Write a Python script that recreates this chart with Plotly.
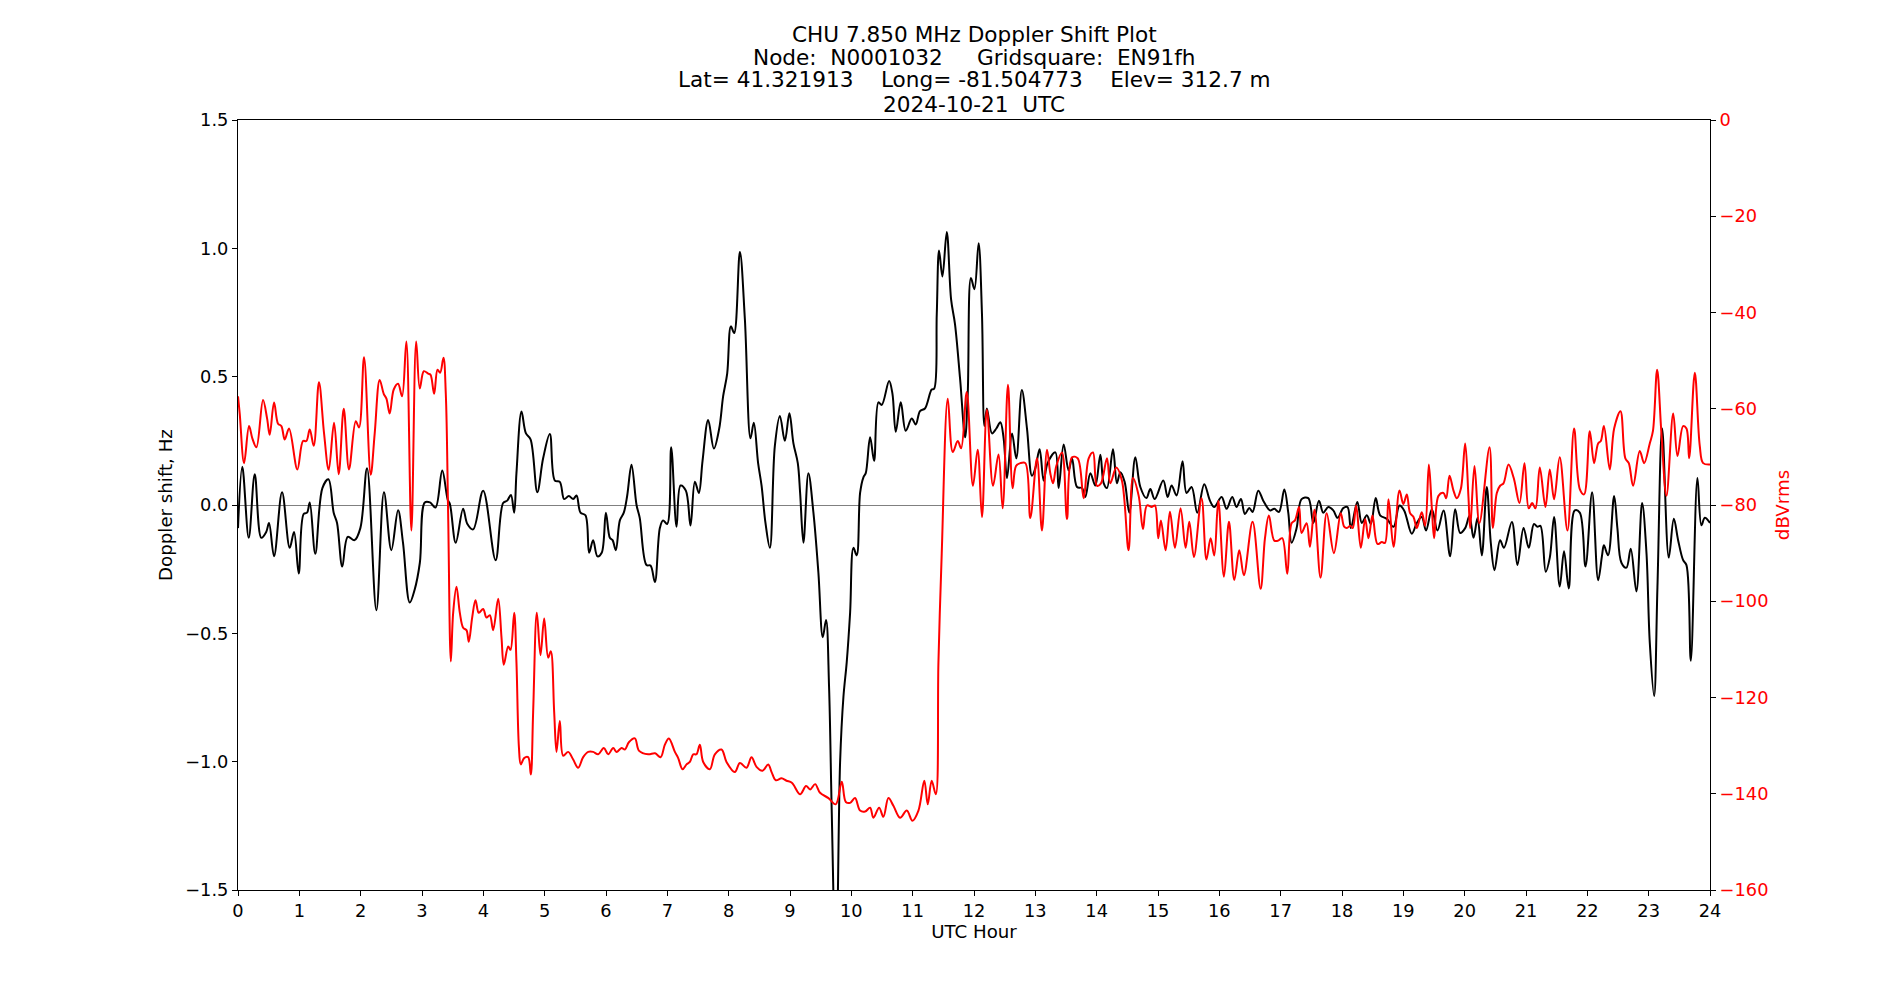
import plotly.graph_objects as go

# ---- Doppler shift (Hz) vs UTC hour (black) ----
doppler_hours = [
    0.0, 0.07, 0.175, 0.273, 0.38, 0.46, 0.506, 0.588, 0.718, 0.843, 0.914, 0.99, 1.07, 1.126, 1.17,
    1.26, 1.376, 1.474, 1.56, 1.615, 1.70, 1.79, 1.9, 1.995, 2.104, 2.256, 2.38, 2.5, 2.61, 2.69,
    2.80, 2.88, 2.965, 3.046, 3.13, 3.22, 3.33, 3.42, 3.454, 3.55, 3.67, 3.74, 3.834, 3.997, 4.2,
    4.323, 4.39, 4.45, 4.503, 4.54, 4.622, 4.693, 4.77, 4.88, 4.975, 5.084, 5.166, 5.247, 5.318,
    5.394, 5.465, 5.52, 5.584, 5.665, 5.725, 5.79, 5.86, 5.93, 5.998, 6.063, 6.107, 6.16, 6.226,
    6.29, 6.346, 6.416, 6.498, 6.55, 6.66, 6.726, 6.797, 6.878, 6.93, 6.998, 7.063, 7.15, 7.215,
    7.302, 7.378, 7.449, 7.514, 7.574, 7.666, 7.759, 7.846, 7.91, 7.976, 8.036, 8.09, 8.183, 8.264,
    8.356, 8.41, 8.48, 8.536, 8.6, 8.672, 8.753, 8.835, 8.916, 8.99, 9.056, 9.127, 9.165, 9.219,
    9.3, 9.382, 9.463, 9.534, 9.588, 9.637, 9.68, 9.75, 9.817, 9.871, 9.925, 9.98, 10.034, 10.088,
    10.143, 10.197, 10.235, 10.306, 10.371, 10.442, 10.496, 10.616, 10.67, 10.724, 10.806, 10.887,
    10.985, 11.05, 11.12, 11.2, 11.31, 11.35, 11.393, 11.43, 11.485, 11.556, 11.627, 11.69, 11.773,
    11.855, 11.898, 11.95, 12.007, 12.075, 12.13, 12.17, 12.21, 12.293, 12.364, 12.43, 12.483,
    12.538, 12.62, 12.69, 12.78, 12.864, 12.945, 13.0, 13.07, 13.136, 13.2, 13.326, 13.38, 13.462,
    13.543, 13.598, 13.68, 13.76, 13.815, 13.897, 13.978, 14.06, 14.114, 14.168, 14.266, 14.33,
    14.386, 14.456, 14.532, 14.63, 14.712, 14.81, 14.875, 14.946, 15.086, 15.157, 15.222, 15.303,
    15.4, 15.466, 15.548, 15.64, 15.754, 15.847, 15.917, 16.037, 16.118, 16.21, 16.28, 16.352,
    16.417, 16.488, 16.542, 16.635, 16.716, 16.825, 16.896, 16.972, 17.059, 17.124, 17.178, 17.26,
    17.341, 17.45, 17.532, 17.624, 17.695, 17.776, 17.858, 17.928, 18.02, 18.09, 18.144, 18.25,
    18.323, 18.405, 18.47, 18.55, 18.622, 18.73, 18.84, 18.937, 19.013, 19.138, 19.22, 19.3, 19.37,
    19.465, 19.557, 19.655, 19.763, 19.845, 19.927, 20.008, 20.078, 20.144, 20.21, 20.28, 20.36,
    20.426, 20.486, 20.578, 20.64, 20.77, 20.86, 20.96, 21.045, 21.13, 21.187, 21.235, 21.322,
    21.388, 21.458, 21.55, 21.62, 21.697, 21.795, 21.877, 21.97, 22.078, 22.176, 22.24, 22.27,
    22.338, 22.437, 22.49, 22.556, 22.638, 22.708, 22.8, 22.893, 22.964, 23.018, 23.089, 23.143,
    23.22, 23.328, 23.41, 23.48, 23.562, 23.616, 23.687, 23.795, 23.86, 23.915, 24.0,
]
doppler_hz = [
    -0.09, 0.149, -0.128, 0.12, -0.128, -0.105, -0.07, -0.2, 0.05, -0.167, -0.105, -0.267, -0.035, -0.03, 0.01,
    -0.19, 0.066, 0.1, -0.03, -0.07, -0.24, -0.124, -0.137, -0.09, 0.143, -0.41, 0.05, -0.176, -0.02, -0.147,
    -0.38, -0.33, -0.225, 0.01, 0.01, -0.01, 0.134, 0.02, 0.005, -0.147, -0.015, -0.074, -0.095, 0.056, -0.215,
    0.008, 0.017, 0.039, -0.03, 0.124, 0.364, 0.28, 0.256, 0.05, 0.182, 0.277, 0.095, 0.09, 0.023,
    0.035, 0.023, 0.037, -0.03, -0.04, -0.186, -0.137, -0.2, -0.186, -0.03, -0.128, -0.137, -0.176, -0.06,
    -0.03, 0.037, 0.157, 0.0, -0.05, -0.234, -0.236, -0.3, -0.09, -0.06, -0.074, 0.225, -0.085, 0.076,
    0.056, -0.08, 0.091, 0.047, 0.172, 0.331, 0.22, 0.298, 0.424, 0.512, 0.696, 0.67, 0.986, 0.725,
    0.26, 0.32, 0.163, 0.076, -0.07, -0.167, 0.23, 0.347, 0.25, 0.357, 0.24, 0.163, 0.047, -0.147,
    0.124, -0.03, -0.264, -0.515, -0.448, -0.71, -1.19, -1.85, -1.0, -0.748, -0.612, -0.42, -0.167, -0.196,
    0.047, 0.108, 0.124, 0.264, 0.172, 0.4, 0.39, 0.483, 0.434, 0.285, 0.4, 0.289,
    0.337, 0.314, 0.366, 0.376, 0.45, 0.453, 0.744, 0.992, 0.89, 1.064, 0.8, 0.705, 0.492,
    0.264, 0.434, 0.884, 0.841, 1.02, 0.744, 0.308, 0.376, 0.279, 0.298, 0.322, 0.26,
    0.105, 0.279, 0.182, 0.448, 0.298, 0.114, 0.143, 0.217, 0.095, 0.163, 0.205, 0.066, 0.236,
    0.134, 0.182, 0.07, 0.066, 0.031, 0.124, 0.076, 0.196, 0.085, 0.066, 0.217, 0.085,
    0.128, 0.09, -0.03, 0.186, 0.07, 0.027, 0.062, 0.023, 0.095, 0.031, 0.076, 0.037,
    0.17, 0.047, 0.07, -0.03, 0.081, 0.017, -0.008, 0.031, -0.015, 0.031, -0.008, 0.023,
    -0.035, -0.012, -0.027, 0.056, 0.017, -0.021, -0.015, -0.027, 0.06, -0.03, -0.147, -0.09,
    0.023, 0.027, -0.07, 0.017, -0.03, -0.008, -0.021, -0.05, -0.012, -0.008, -0.09, 0.012,
    -0.07, -0.04, -0.074, 0.027, -0.04, -0.054, -0.085, -0.002, -0.021, -0.112, -0.07, -0.047, -0.099,
    -0.017, -0.099, -0.021, -0.2, -0.017, -0.109, -0.09, -0.043, -0.128, -0.05, -0.196, 0.07,
    -0.147, -0.254, -0.137, -0.167, -0.066, -0.234, -0.09, -0.167, -0.074, -0.085, -0.081, -0.26,
    -0.205, -0.047, -0.318, -0.18, -0.325, -0.021, -0.03, -0.24, 0.05, -0.293, -0.196, -0.157,
    -0.196, 0.035, -0.09, -0.225, -0.244, -0.17, -0.337, 0.008, -0.186, -0.535, -0.744, -0.32,
    0.298, -0.205, -0.054, -0.137, -0.215, -0.234, -0.607, 0.105, -0.079, -0.05, -0.07,
]

# ---- Received power (dBVrms) vs UTC hour (red) ----
power_hours = [
    0.0, 0.028, 0.099, 0.18, 0.235, 0.3, 0.408, 0.474, 0.517, 0.588, 0.653, 0.707, 0.762, 0.832, 0.968,
    1.06, 1.115, 1.17, 1.235, 1.32, 1.403, 1.479, 1.566, 1.642, 1.724, 1.81, 1.92, 1.974, 2.055, 2.164,
    2.229, 2.31, 2.376, 2.42, 2.473, 2.539, 2.61, 2.675, 2.745, 2.827, 2.905, 2.964, 3.03, 3.1, 3.138,
    3.198, 3.253, 3.296, 3.35, 3.388, 3.426, 3.47, 3.508, 3.562, 3.617, 3.671, 3.725, 3.763, 3.818,
    3.872, 3.926, 3.997, 4.051, 4.106, 4.16, 4.242, 4.296, 4.334, 4.405, 4.443, 4.503, 4.54, 4.58,
    4.611, 4.665, 4.73, 4.774, 4.812, 4.872, 4.932, 4.992, 5.057, 5.1, 5.155, 5.193, 5.247, 5.302,
    5.383, 5.465, 5.546, 5.628, 5.71, 5.79, 5.872, 5.965, 6.036, 6.117, 6.172, 6.253, 6.308, 6.373,
    6.47, 6.54, 6.688, 6.8, 6.89, 6.96, 7.025, 7.123, 7.177, 7.248, 7.313, 7.367, 7.422, 7.475, 7.53,
    7.585, 7.693, 7.775, 7.884, 7.965, 8.1, 8.183, 8.29, 8.373, 8.454, 8.552, 8.645, 8.7, 8.77,
    8.862, 8.943, 9.03, 9.165, 9.262, 9.328, 9.41, 9.49, 9.627, 9.746, 9.844, 9.91, 9.98, 10.06,
    10.143, 10.224, 10.306, 10.36, 10.453, 10.523, 10.605, 10.686, 10.795, 10.904, 10.996, 11.094,
    11.19, 11.246, 11.31, 11.377, 11.42, 11.474, 11.572, 11.654, 11.735, 11.79, 11.882, 11.983,
    12.06, 12.13, 12.21, 12.31, 12.40, 12.467, 12.554, 12.63, 12.685, 12.755, 12.837, 12.918,
    13.027, 13.108, 13.19, 13.244, 13.288, 13.342, 13.435, 13.516, 13.598, 13.69, 13.788, 13.87,
    13.94, 14.005, 14.07, 14.168, 14.223, 14.32, 14.413, 14.52, 14.592, 14.685, 14.755, 14.82, 14.9,
    14.95, 15.004, 15.048, 15.124, 15.195, 15.276, 15.368, 15.45, 15.51, 15.586, 15.71, 15.79,
    15.858, 15.917, 15.983, 16.075, 16.157, 16.244, 16.325, 16.4, 16.542, 16.673, 16.744, 16.808,
    16.896, 16.96, 17.026, 17.108, 17.178, 17.233, 17.3, 17.341, 17.423, 17.477, 17.55, 17.65,
    17.75, 17.868, 17.98, 18.035, 18.08, 18.133, 18.175, 18.23, 18.307, 18.378, 18.432, 18.497,
    18.579, 18.65, 18.7, 18.758, 18.84, 18.937, 19.0, 19.057, 19.11, 19.166, 19.22, 19.3, 19.356,
    19.416, 19.465, 19.503, 19.573, 19.655, 19.698, 19.753, 19.818, 19.872, 19.937, 20.008, 20.062,
    20.09, 20.16, 20.24, 20.405, 20.46, 20.524, 20.578, 20.633, 20.715, 20.8, 20.894, 20.975,
    21.045, 21.1, 21.154, 21.225, 21.317, 21.388, 21.458, 21.55, 21.676, 21.784, 21.877, 21.947,
    22.04, 22.11, 22.176, 22.22, 22.27, 22.366, 22.437, 22.54, 22.62, 22.676, 22.746, 22.855,
    22.926, 23.018, 23.07, 23.138, 23.208, 23.29, 23.4, 23.47, 23.562, 23.616, 23.66, 23.752,
    23.833, 23.888, 24.0,
]
power_db = [
    -57.4, -61, -71.3, -63.6, -66.2, -68, -58.2, -62, -65.4, -58.7, -63.1, -63.6, -66.4, -64.1, -72.6,
    -66.7, -66.7, -64.3, -67.7, -54.5, -65.1, -72.7, -62.9, -73.6, -60, -72.6, -62.6, -63.9, -49.3, -73.7,
    -65.1, -54, -56.9, -57.9, -61, -56, -54.8, -57.4, -46, -85.3, -46, -55.8, -52.2, -52.7, -52.9,
    -56.9, -51.9, -52.5, -49.4, -56.9, -81.7, -112.5, -102.4, -97, -102.4, -105.5, -106, -108.4, -103.4,
    -99.8, -102.4, -101.6, -103.4, -102.9, -106, -99.5, -107.5, -113.2, -109.4, -110.1, -102.4, -112.7, -130.3,
    -133.9, -132.6, -132.4, -136, -123, -102.4, -111.2, -103.6, -111.7, -110.4, -123, -131.3, -124.9, -132.1,
    -131.3, -132.9, -134.6, -132.4, -131.3, -131.3, -131.8, -130.5, -131.8, -130.5, -131.3, -130.5, -130.8, -129.3,
    -128.5, -131.1, -131.8, -131.6, -132.4, -129.8, -128.5, -131.3, -132.6, -134.9, -133.9, -133.4, -131.8, -131.8, -129.8,
    -133.4, -134.9, -131.8, -130.8, -133.4, -135.5, -133.6, -134.6, -132.4, -134.4, -135.2, -133.9, -135.5, -137.2,
    -136.8, -137.3, -137.7, -140.1, -138.4, -139.1, -138, -139.8, -140.9, -142.2, -137.5, -141.7, -141.9, -140.9,
    -143.5, -143.7, -142.9, -145, -142.9, -144.8, -140.9, -142.5, -145, -143.5, -145.6, -143.5,
    -137.3, -142.2, -137.3, -140.1, -112.7, -90, -57.9, -69, -66.7, -68.2, -56.5, -76,
    -68.5, -82.5, -60.2, -76, -69.5, -80.7, -55, -76.5, -71.9, -71.3, -71.3, -82.7,
    -70.3, -85.3, -68.5, -73.4, -75.5, -71.9, -69.1, -82.9, -70.1, -70.3, -78.6, -70.3,
    -69.1, -76, -75.5, -70.3, -75.5, -72.2, -75, -89.4, -74.4, -78.1, -85, -80.1, -80.4,
    -80.1, -86.9, -83.2, -89.4, -81.4, -88.9, -80.7, -88.9, -83.5, -90.8, -78.6, -91.3,
    -86.9, -90.5, -79.1, -94.9, -83.5, -95.6, -89.4, -94.6, -83.5, -97.4, -86.9, -82.2,
    -87.4, -87.4, -86.9, -94.3, -83.8, -83.2, -80.4, -85.8, -83.8, -88.7, -81, -95.1,
    -81.7, -90, -81.7, -84.5, -84.8, -84.3, -84.8, -80.1, -88.9, -82.9, -86.9, -82.2,
    -88.1, -87.7, -87.9, -78.8, -88.7, -77, -79.8, -77.8, -81.7, -82.5, -84.8, -81.5, -84.3,
    -71.6, -80.7, -86.9, -78.1, -77.5, -78.6, -73.9, -77, -78.6, -76.7, -67.2, -78.4,
    -84.8, -71.9, -83.8, -68, -84.8, -77.5, -76, -75.5, -71.6, -74.4, -79.6, -71.3,
    -80.7, -79.6, -80.7, -72.2, -80.4, -72.6, -78.8, -70.1, -85.3, -64.1, -76.7, -77.8,
    -64.7, -71.3, -67.2, -66.7, -63.6, -72.6, -64.1, -60.5, -70.3, -71.3, -76, -68.8,
    -71.3, -67.2, -64.6, -51.9, -65.1, -78.1, -61, -69.8, -63.6, -64.1, -70.3, -52.5,
    -67.7, -71.3, -71.6,
]

x_ticks = list(range(0, 25))
y1_ticks = [-1.5, -1.0, -0.5, 0.0, 0.5, 1.0, 1.5]
y2_ticks = [-160, -140, -120, -100, -80, -60, -40, -20, 0]

NB = "\u00a0"
title_lines = [
    "CHU 7.850 MHz Doppler Shift Plot",
    "Node:" + NB * 2 + "N0001032" + NB * 5 + "Gridsquare:" + NB * 2 + "EN91fh",
    "Lat=" + NB + "41.321913" + NB * 4 + "Long=" + NB + "-81.504773" + NB * 4 + "Elev=" + NB + "312.7" + NB + "m",
    "2024-10-21" + NB * 2 + "UTC",
]

FONT = "DejaVu Sans"
TICK_SIZE = 17.8
LABEL_SIZE = 18.2
TITLE_SIZE = 21.6

fig = go.Figure()
fig.add_trace(go.Scatter(
    x=doppler_hours, y=doppler_hz, mode="lines",
    line=dict(color="black", width=2, shape="spline", smoothing=1.0),
    yaxis="y", showlegend=False, hoverinfo="skip",
))
fig.add_trace(go.Scatter(
    x=power_hours, y=power_db, mode="lines",
    line=dict(color="red", width=2, shape="spline", smoothing=1.0),
    yaxis="y2", showlegend=False, hoverinfo="skip",
))

plot_top, plot_bottom = 120, 890
title_y_px = [35, 57, 80, 104]
annotations = []
for line, ypx in zip(title_lines, title_y_px):
    annotations.append(dict(
        text=line, xref="paper", yref="paper", x=0.5,
        y=(plot_bottom - ypx) / (plot_bottom - plot_top),
        xanchor="center", yanchor="middle", showarrow=False,
        font=dict(family=FONT, size=TITLE_SIZE, color="black"),
    ))

fig.update_layout(
    width=1900, height=1000, autosize=False,
    margin=dict(l=238, r=190, t=120, b=110, pad=0),
    paper_bgcolor="white", plot_bgcolor="white",
    font=dict(family=FONT, size=TICK_SIZE, color="black"),
    annotations=annotations,
    xaxis=dict(
        range=[0, 24], tickvals=x_ticks, ticktext=[str(v) for v in x_ticks],
        showgrid=False, zeroline=False, showline=True, linecolor="black", linewidth=1.1,
        mirror=True, ticks="outside", ticklen=5, tickwidth=1.1, tickcolor="black",
        tickfont=dict(family=FONT, size=TICK_SIZE, color="black"),
        title=dict(text="UTC Hour", font=dict(family=FONT, size=LABEL_SIZE, color="black"), standoff=4),
    ),
    yaxis=dict(
        range=[-1.5, 1.5], tickvals=y1_ticks, tickformat=".1f",
        showgrid=False, zeroline=True, zerolinecolor="#808080", zerolinewidth=1.1,
        showline=True, linecolor="black", linewidth=1.1,
        ticks="outside", ticklen=5, tickwidth=1.1, tickcolor="black",
        tickfont=dict(family=FONT, size=TICK_SIZE, color="black"),
        title=dict(text="Doppler shift, Hz", font=dict(family=FONT, size=LABEL_SIZE, color="black"), standoff=7),
    ),
    yaxis2=dict(
        range=[-160, 0], tickvals=y2_ticks, overlaying="y", side="right",
        showgrid=False, zeroline=False, showline=True, linecolor="black", linewidth=1.1,
        ticks="outside", ticklen=5, tickwidth=1.1, tickcolor="black",
        tickfont=dict(family=FONT, size=TICK_SIZE, color="red"),
        title=dict(text="dBVrms", font=dict(family=FONT, size=LABEL_SIZE, color="red"), standoff=8),
    ),
)

fig.write_html("out.html")
